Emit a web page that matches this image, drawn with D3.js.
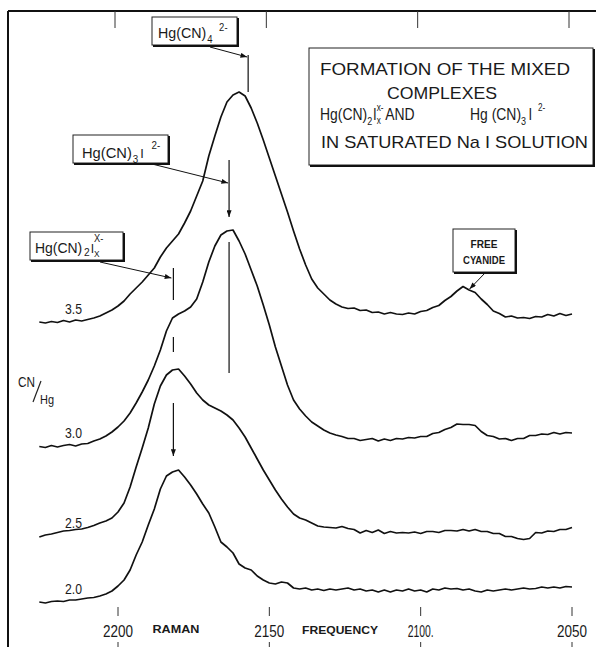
<!DOCTYPE html>
<html>
<head>
<meta charset="utf-8">
<script src="https://cdn.jsdelivr.net/npm/d3@7"></script>
<style>
  body { margin: 0; background: #fff; }
  svg { display: block; }
  text { font-family: "Liberation Sans", "DejaVu Sans", sans-serif; fill: #1a1a1a; }
</style>
</head>
<body>
<div id="chart"></div>
<script>
// Raman shift sampling (cm-1), shared by all spectra
const wavenumbers = [
  2226, 2224, 2222, 2220, 2218, 2216, 2214, 2212, 2210, 2208,
  2206, 2204, 2202, 2200, 2198, 2196, 2194, 2192, 2190, 2188,
  2186, 2184, 2182, 2180, 2178, 2176, 2174, 2172, 2170, 2168,
  2166, 2164, 2162, 2160, 2158, 2156, 2154, 2152, 2150, 2148,
  2146, 2144, 2142, 2140, 2138, 2136, 2134, 2132, 2130, 2128,
  2126, 2124, 2122, 2120, 2118, 2116, 2114, 2112, 2110, 2108,
  2106, 2104, 2102, 2100, 2098, 2096, 2094, 2092, 2090, 2088,
  2086, 2084, 2082, 2080, 2078, 2076, 2074, 2072, 2070, 2068,
  2066, 2064, 2062, 2060, 2058, 2056, 2054, 2052, 2050
];

// intensities (arb. units) above each trace's own offset
const trace35 = [
  0, -1, 0.5, -0.5, 1.5, 0, 2, 1, 2.5, 4,
  6, 9, 12, 16, 21, 28, 34, 40, 47, 54,
  65, 74, 81, 88, 99, 111, 126, 141, 166, 186,
  205, 220, 227, 230, 226, 214, 199, 182, 164, 146,
  128, 110, 91, 73, 57, 43, 34, 28, 22, 18,
  15, 13.5, 14, 11.5, 12, 9.5, 10, 8, 9.5, 8,
  7.5, 9, 8, 10.5, 11.5, 14.5, 16.5, 21.5, 25.5, 31,
  35.5, 32, 29.5, 23, 17.5, 11, 8.5, 5, 6, 4,
  4.5, 3.5, 5.5, 5, 7.5, 6, 8.5, 6.5, 8
];
const trace30 = [
  -0.5, -1.5, 0.5, -1, 0.5, 1.5, 0, 2, 2.5, 5,
  7, 10, 14, 19, 25, 33, 43, 54, 66, 80,
  96, 115, 128, 132, 135, 139, 147, 164, 184, 200,
  211, 215, 216, 205, 192, 176, 160, 141, 121, 99,
  80, 61, 46, 37, 30, 24, 20, 16, 13, 11,
  9.5, 7.5, 7.5, 5.5, 6.5, 7.5, 5, 7, 5.5, 7.5,
  7, 8.5, 8, 9.5, 9.5, 12.5, 13.5, 16.5, 18.5, 22,
  21.5, 21.5, 20.5, 14.5, 10.5, 9.5, 7, 7.5, 5.5, 7.5,
  7.5, 10.5, 10.5, 12, 11.5, 13.5, 12, 13.5, 13
];
const trace25 = [
  -1, 1, 2, 3.5, 5, 5.5, 6.5, 7, 8.5, 10.5,
  13, 15, 18, 24, 33, 49, 69, 88, 108, 132,
  150, 161, 166, 167, 160, 152, 143, 136, 131, 128,
  125, 121, 116, 108, 99, 88, 77, 66, 56, 46,
  37, 29, 22, 18, 16, 13, 10, 9, 8.5, 8,
  9.5, 7.5, 6.5, 3, 5.5, 3.5, 6, 2.5, 4.5, 3,
  3.5, 3, 4, 2.5, 4.5, 4.5, 3.5, 5.5, 5.5, 5,
  6.5, 5, 6.5, 4.5, 4.5, 2.5, 2.5, -0.5, -0.5, -2.5,
  -3.5, -2.5, 3.5, 3, 5, 4.5, 6.5, 6.5, 8.5
];
const trace20 = [
  0, -1, 0.5, 1, 0.5, 2, 2, 3, 4, 4.5,
  6, 8, 11, 16, 22, 32, 47, 60, 77, 93,
  113, 126, 130, 132, 125, 117, 108, 98, 89, 75,
  60, 55, 49, 38, 34, 32, 26, 22, 19, 18,
  20, 19, 14, 13, 14, 12, 13, 11.5, 13, 12,
  13, 14, 12, 13, 11, 12, 10, 12, 10, 12,
  11, 13, 11, 12, 10, 13, 12, 14, 13, 13.5,
  12, 13, 11, 10, 12, 11, 12, 13, 12, 13,
  14, 13, 13.5, 15, 14, 15, 14, 15.5, 15
];

const ratioLabels = ["3.5", "3.0", "2.5", "2.0"];
const traceOffsets = [280, 156, 66, 0];
const traces = [trace35, trace30, trace25, trace20];

const tickValues = [2200, 2150, 2100, 2050];
const tickLabels = ["2200", "2150", "2100.", "2050"];

// band assignments (cm-1)
const bandHgCN4 = 2157;
const bandHgCN3I = 2163.3;
const bandHgCN2Ix = 2181.7;
const bandFreeCN = 2084.5;

const W = 596, H = 647;

const svg = d3.select("#chart").append("svg")
  .attr("width", W)
  .attr("height", H);

const x = d3.scaleLinear().domain([2200, 2050]).range([118, 572]);
const y = d3.scaleLinear().domain([0, 600]).range([602, 2]);

svg.append("defs").append("marker")
  .attr("id", "arrow")
  .attr("viewBox", "0 0 8 6")
  .attr("refX", 8).attr("refY", 3)
  .attr("markerWidth", 7).attr("markerHeight", 5)
  .attr("markerUnits", "userSpaceOnUse")
  .attr("orient", "auto")
  .append("path")
  .attr("d", "M0,0L8,3L0,6Z")
  .attr("fill", "#111");

// frame
svg.append("line").attr("x1", 8).attr("x2", W).attr("y1", 11).attr("y2", 11)
  .attr("stroke", "#111").attr("stroke-width", 2);
svg.append("line").attr("x1", 8).attr("x2", 8).attr("y1", 11).attr("y2", H)
  .attr("stroke", "#111").attr("stroke-width", 2);

// top ticks
svg.selectAll(".ttick").data(tickValues).enter().append("line")
  .attr("x1", d => x(d) - 3).attr("x2", d => x(d) - 3)
  .attr("y1", 11).attr("y2", 28)
  .attr("stroke", "#333").attr("stroke-width", 1);

// bottom ticks + labels
svg.selectAll(".btick").data(tickValues).enter().append("line")
  .attr("x1", d => x(d)).attr("x2", d => x(d))
  .attr("y1", 607).attr("y2", 616)
  .attr("stroke", "#333").attr("stroke-width", 1);
svg.selectAll(".btick2").data(tickValues).enter().append("line")
  .attr("x1", d => x(d)).attr("x2", d => x(d))
  .attr("y1", 642).attr("y2", H)
  .attr("stroke", "#333").attr("stroke-width", 1);
svg.selectAll(".blabel").data(tickValues).enter().append("text")
  .attr("x", d => x(d)).attr("y", 637)
  .attr("text-anchor", "middle")
  .attr("font-size", 17)
  .attr("textLength", (d, i) => tickLabels[i].length > 4 ? 26 : 30)
  .attr("lengthAdjust", "spacingAndGlyphs")
  .text((d, i) => tickLabels[i]);

function txt(px, py, s, size, opts = {}) {
  const t = svg.append("text")
    .attr("x", px).attr("y", py)
    .attr("font-size", size)
    .text(s);
  if (opts.len) t.attr("textLength", opts.len).attr("lengthAdjust", "spacingAndGlyphs");
  if (opts.weight) t.attr("font-weight", opts.weight);
  if (opts.anchor) t.attr("text-anchor", opts.anchor);
  return t;
}

// one text element with sub/superscript runs, squeezed horizontally
function rich(px, py, sx, parts) {
  const t = svg.append("text")
    .attr("transform", `translate(${px},${py}) scale(${sx},1)`);
  parts.forEach(p => {
    t.append("tspan")
      .attr("font-size", p[1])
      .attr("dx", p[3] || 0)
      .attr("dy", p[2] || 0)
      .text(p[0]);
  });
  return t;
}

function box(x0, y0, x1, y1) {
  svg.append("rect")
    .attr("x", x0).attr("y", y0)
    .attr("width", x1 - x0).attr("height", y1 - y0)
    .attr("fill", "#fff").attr("stroke", "#222").attr("stroke-width", 1);
  svg.append("polyline")
    .attr("points", `${x0 + 1},${y1 + 1} ${x1 + 1},${y1 + 1} ${x1 + 1},${y0 + 1}`)
    .attr("fill", "none").attr("stroke", "#111").attr("stroke-width", 2);
}

txt(176, 633, "RAMAN", 11, { anchor: "middle", weight: "bold", len: 47 });
txt(340, 634, "FREQUENCY", 11, { anchor: "middle", weight: "bold", len: 76 });

// spectra
const line = d3.line()
  .x((d, i) => x(wavenumbers[i]))
  .y(d => d);

traces.forEach((vals, k) => {
  const pts = vals.map(v => y(v + traceOffsets[k]));
  svg.append("path")
    .datum(pts)
    .attr("fill", "none")
    .attr("stroke", "#111")
    .attr("stroke-width", 1.7)
    .attr("stroke-linejoin", "round")
    .attr("d", line);
  txt(x(2217.5), y(traceOffsets[k] + 8), ratioLabels[k], 15, { len: 17 });
});

// CN/Hg axis label
txt(18, 387, "CN", 14, { len: 17 });
svg.append("line").attr("x1", 33).attr("y1", 402).attr("x2", 41).attr("y2", 381)
  .attr("stroke", "#222").attr("stroke-width", 1.2);
txt(40, 404, "Hg", 13, { len: 14 });

// band marker lines
function vline(w, v0, v1, arrow) {
  const l = svg.append("line")
    .attr("x1", x(w)).attr("x2", x(w))
    .attr("y1", y(v0)).attr("y2", y(v1))
    .attr("stroke", "#111").attr("stroke-width", 1.2);
  if (arrow) l.attr("marker-end", "url(#arrow)");
}
vline(bandHgCN4, 547, 510, false);
vline(bandHgCN3I, 442, 385, true);
vline(bandHgCN3I, 360, 229, false);
vline(bandHgCN2Ix, 334, 302, false);
vline(bandHgCN2Ix, 265, 250, false);
vline(bandHgCN2Ix, 199, 146, true);

function pointer(x0, y0, x1, y1) {
  svg.append("line")
    .attr("x1", x0).attr("y1", y0).attr("x2", x1).attr("y2", y1)
    .attr("stroke", "#111").attr("stroke-width", 1)
    .attr("marker-end", "url(#arrow)");
}

// Hg(CN)4 2-
box(152, 17, 237, 45);
rich(158, 38, 0.95, [["Hg(CN)", 15], ["4", 10, 5, 1], ["2-", 10, -12, 7]]);
pointer(210, 47, x(bandHgCN4) - 1, y(545));

// Hg(CN)3I 2-
box(73, 135, 168, 163);
rich(82, 158, 0.98, [["Hg(CN)", 15], ["3", 10, 5, 1], ["I", 13, -5, 2], ["2-", 10, -9, 8]]);
pointer(152, 164, x(bandHgCN3I) - 1, y(419));

// Hg(CN)2Ix x-
box(30, 232, 123, 260);
rich(35, 253, 0.93, [["Hg(CN)", 15], ["2", 11, 3, 2], ["I", 13, -3, 1], ["X", 9, 4, 0], ["X-", 10, -15, -6]]);
pointer(100, 262, x(bandHgCN2Ix) - 2, y(324));

// free cyanide
box(453, 229, 515, 272);
txt(484, 248, "FREE", 11, { anchor: "middle", weight: "bold", len: 27 });
txt(484, 264, "CYANIDE", 11, { anchor: "middle", weight: "bold", len: 42 });
pointer(485, 273, x(bandFreeCN) + 2, y(trace35[71] + traceOffsets[0] + 1));

// title box
box(309, 48, 593, 165);
txt(320, 75, "FORMATION  OF  THE MIXED", 17, { len: 250 });
txt(387, 99, "COMPLEXES", 17, { len: 110 });
rich(320, 120, 0.82, [["Hg(CN)", 17], ["2", 11, 5, 0], ["I", 16, -5, 1], ["x", 10, 4, 0],
  ["x-", 10, -13, -5], ["AND", 17, 9, 2]]);
rich(470, 120, 0.82, [["Hg (CN)", 17], ["3", 11, 5, 0], ["I", 16, -5, 3], ["2-", 10, -9, 7]]);
txt(321, 148, "IN SATURATED Na I SOLUTION", 17, { len: 267 });
</script>
</body>
</html>
